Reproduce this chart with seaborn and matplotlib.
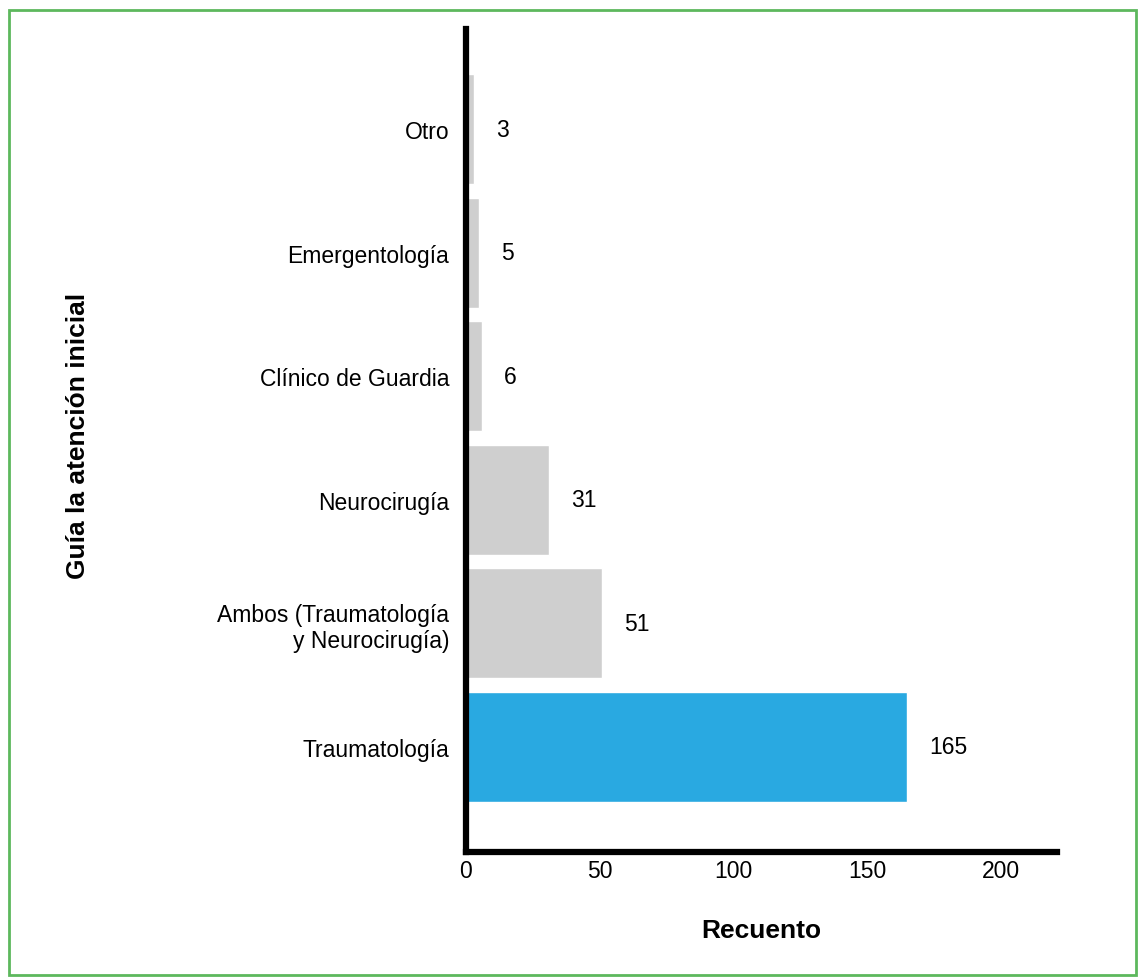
import matplotlib
matplotlib.use("Agg")
import matplotlib.pyplot as plt
import seaborn as sns
import pandas as pd
from matplotlib.patches import Rectangle

categories = ["Otro", "Emergentología", "Clínico de Guardia", "Neurocirugía",
              "Ambos (Traumatología\ny Neurocirugía)", "Traumatología"]
counts = [3, 5, 6, 31, 51, 165]
xticks = [0, 50, 100, 150, 200]

df = pd.DataFrame({"cat": categories, "n": counts})

sns.set_theme(style="white")
plt.rcParams['font.family'] = ['Liberation Sans', 'DejaVu Sans']
plt.rcParams['text.color'] = 'black'
plt.rcParams['axes.labelcolor'] = 'black'
plt.rcParams['xtick.color'] = 'black'
plt.rcParams['ytick.color'] = 'black'

fig = plt.figure(figsize=(11.39, 9.79), dpi=100)
ax = fig.add_axes([0.409, 0.1287, 0.519, 0.8407])

palette = ["#CFCFCF"] * 5 + ["#29A9E1"]
sns.barplot(data=df, y="cat", x="n", hue="cat", palette=palette, legend=False,
            orient="h", width=0.89, ax=ax, saturation=1)

ax.set_xlim(0, 221)
ax.set_ylim(5.85, -0.81)
ax.set_xticks(xticks)
ax.set_xticklabels([str(v) for v in xticks], fontsize=16.5)
ax.tick_params(axis="y", labelsize=16.5, length=0, pad=12, labelcolor="black")
ax.tick_params(axis="x", length=0, pad=5, labelcolor="black")
for lab in ax.get_yticklabels():
    lab.set_multialignment("right")

for s in ["top", "right"]:
    ax.spines[s].set_visible(False)
for s in ["left", "bottom"]:
    ax.spines[s].set_linewidth(4.5)
    ax.spines[s].set_color("black")

for i, v in enumerate(counts):
    ax.annotate(str(v), xy=(v, i), xytext=(16, 0), textcoords="offset points",
                va="center", ha="left", fontsize=16.5, color="black")

ax.set_xlabel("Recuento", fontsize=19, fontweight="bold", labelpad=26)
ax.set_ylabel("Guía la atención inicial", fontsize=19, fontweight="bold")
ax.yaxis.set_label_coords(-0.635, 0.507)

fig.patches.append(Rectangle((0.0075, 0.003), 0.9895, 0.9855, transform=fig.transFigure,
                             fill=False, edgecolor="#5DB85D", linewidth=2))

fig.savefig("out.png", dpi=100)
